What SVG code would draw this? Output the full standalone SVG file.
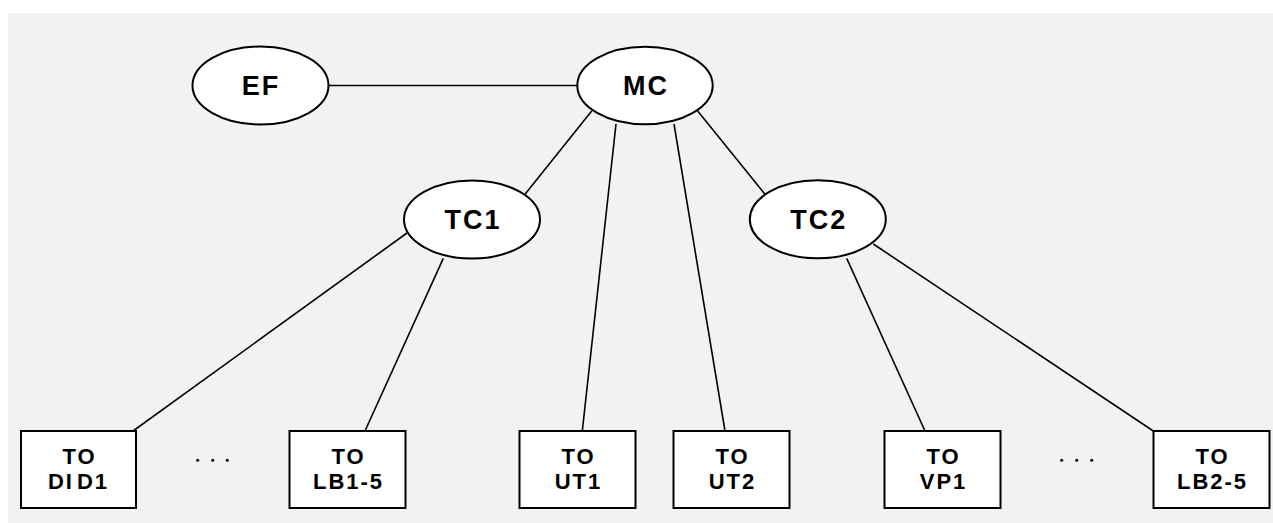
<svg xmlns="http://www.w3.org/2000/svg" width="1273" height="523" viewBox="0 0 1273 523">
<style>
.bg{fill:#f2f2f2}
.ell{fill:#fff;stroke:#000;stroke-width:2}
.box{fill:#fff;stroke:#000;stroke-width:2}
.ln{stroke:#000;stroke-width:1.6;fill:none}
.t1{font-family:"Liberation Sans",Arial,sans-serif;font-weight:bold;font-size:27px;letter-spacing:2px;text-anchor:middle;fill:#000}
.t2{font-family:"Liberation Sans",Arial,sans-serif;font-weight:bold;font-size:22px;letter-spacing:2px;text-anchor:middle;fill:#000}
.dot{fill:#000}
</style>
<rect class="bg" x="8" y="13" width="1265" height="510"/>
<g id="connectors">
<line class="ln" x1="328" y1="85.5" x2="577" y2="85.5"/>
<line class="ln" x1="591.7" y1="111" x2="525" y2="194.3"/>
<line class="ln" x1="616" y1="124" x2="582.3" y2="431"/>
<line class="ln" x1="674" y1="124" x2="725" y2="431"/>
<line class="ln" x1="697.7" y1="111" x2="765" y2="194.3"/>
<line class="ln" x1="407" y1="233" x2="133" y2="431"/>
<line class="ln" x1="443.3" y1="258.3" x2="365" y2="431"/>
<line class="ln" x1="846.7" y1="258.3" x2="925" y2="431"/>
<line class="ln" x1="873.3" y1="244" x2="1153.3" y2="431"/>
</g>
<g id="EF"><ellipse class="ell" cx="260.5" cy="85.5" rx="68" ry="39"/><text class="t1" x="261" y="95">EF</text></g>
<g id="MC"><ellipse class="ell" cx="645" cy="85.5" rx="67.7" ry="38.7"/><text class="t1" x="646" y="95">MC</text></g>
<g id="TC1"><ellipse class="ell" cx="472" cy="219.5" rx="68" ry="39"/><text class="t1" x="473" y="229">TC1</text></g>
<g id="TC2"><ellipse class="ell" cx="817.8" cy="219.3" rx="68" ry="39"/><text class="t1" x="818.8" y="228.8">TC2</text></g>
<g id="TO_DID1"><rect class="box" x="21" y="431" width="115" height="77"/><text class="t2" x="79.5" y="463.5">TO</text><text class="t2" x="78.5" y="488.5">DI<tspan dx="3">D1</tspan></text></g>
<g id="TO_LB1-5"><rect class="box" x="289.5" y="431" width="116" height="77"/><text class="t2" x="348.5" y="463.5">TO</text><text class="t2" x="348.5" y="488.5">LB1-5</text></g>
<g id="TO_UT1"><rect class="box" x="519.5" y="431" width="116" height="77"/><text class="t2" x="578.5" y="463.5">TO</text><text class="t2" x="578.5" y="488.5">UT1</text></g>
<g id="TO_UT2"><rect class="box" x="673.5" y="431" width="116" height="77"/><text class="t2" x="732.5" y="463.5">TO</text><text class="t2" x="732.5" y="488.5">UT2</text></g>
<g id="TO_VP1"><rect class="box" x="884.5" y="431" width="116" height="77"/><text class="t2" x="943.5" y="463.5">TO</text><text class="t2" x="943.5" y="488.5">VP1</text></g>
<g id="TO_LB2-5"><rect class="box" x="1153.5" y="431" width="116" height="77"/><text class="t2" x="1212.5" y="463.5">TO</text><text class="t2" x="1212.5" y="488.5">LB2-5</text></g>
<g id="dots1"><circle class="dot" cx="197.7" cy="460.3" r="1.5"/><circle class="dot" cx="212.7" cy="460.3" r="1.5"/><circle class="dot" cx="227.3" cy="460.3" r="1.5"/></g>
<g id="dots2"><circle class="dot" cx="1061.7" cy="460.3" r="1.5"/><circle class="dot" cx="1076.7" cy="460.3" r="1.5"/><circle class="dot" cx="1091.7" cy="460.3" r="1.5"/></g>
</svg>
